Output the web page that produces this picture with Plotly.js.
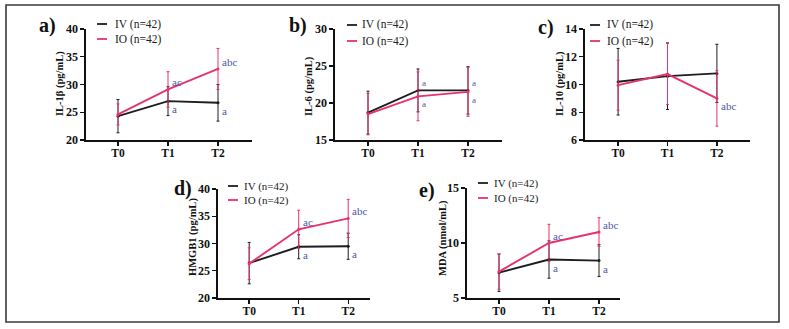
<!DOCTYPE html>
<html>
<head>
<meta charset="utf-8">
<script src="https://cdn.plot.ly/plotly-3.0.1.min.js"></script>
<style>
  html, body { margin: 0; padding: 0; background: #ffffff; }
  #chart { width: 789px; height: 329px; }
</style>
</head>
<body>
<div id="chart"></div>
<script>
// ---- data: mean and SD per time point, two groups of 42 ----
const timePoints = ["T0", "T1", "T2"];
const groupNames = ["IV (n=42)", "IO (n=42)"];

// IL-1β (pg/mL)
const il1bIV   = [24.3, 27.0, 26.7];
const il1bIVsd = [3.0, 2.6, 3.3];
const il1bIO   = [24.6, 29.1, 32.8];
const il1bIOsd = [1.9, 3.2, 3.7];
const il1bSigIV = ["", "a", "a"];
const il1bSigIO = ["", "ac", "abc"];

// IL-6 (pg/mL)
const il6IV   = [18.7, 21.7, 21.7];
const il6IVsd = [2.9, 2.9, 3.2];
const il6IO   = [18.5, 20.9, 21.5];
const il6IOsd = [2.8, 3.3, 3.3];
const il6SigIV = ["", "a", "a"];
const il6SigIO = ["", "a", "a"];

// IL-10 (pg/mL)
const il10IV   = [10.2, 10.6, 10.8];
const il10IVsd = [2.4, 2.4, 2.1];
const il10IO   = [9.95, 10.75, 9.0];
const il10IOsd = [1.8, 2.2, 2.0];
const il10SigIV = ["", "", ""];
const il10SigIO = ["", "", "abc"];

// HMGB1 (pg/mL)
const hmgb1IV   = [26.4, 29.4, 29.5];
const hmgb1IVsd = [3.8, 2.2, 2.4];
const hmgb1IO   = [26.3, 32.6, 34.6];
const hmgb1IOsd = [2.9, 3.5, 3.5];
const hmgb1SigIV = ["", "a", "a"];
const hmgb1SigIO = ["", "ac", "abc"];

// MDA (nmol/mL)
const mdaIV   = [7.3, 8.5, 8.4];
const mdaIVsd = [1.7, 1.7, 1.45];
const mdaIO   = [7.4, 10.0, 11.0];
const mdaIOsd = [1.6, 1.7, 1.3];
const mdaSigIV = ["", "a", "a"];
const mdaSigIO = ["", "ac", "abc"];

// ---- page geometry ----
const W = 789, H = 329;
const fx = p => p / W;
const fy = p => 1 - p / H;

const SERIF = "'Liberation Serif', 'Times New Roman', 'DejaVu Serif', serif";
const COL_IV = "#1e1e1e";
const COL_IO = "#e5336d";
const COL_SIG = "#4c58a8";

// panel frames (pixels) and axis settings
const panels = [
  { tag: "a)", title: "IL-1β (pg/mL)", iv: il1bIV, ivsd: il1bIVsd, io: il1bIO, iosd: il1bIOsd,
    sigIV: il1bSigIV, sigIO: il1bSigIO,
    x0: 86, x1: 252, y0: 29, y1: 140, xr: [-0.64, 2.68], yr: [20, 40], dt: 5,
    tagX: 37, tagY: 26, titleX: 60, titleY: 84, legLine: 97, legText: 113, legY: [24, 39], legSize: 11.5, sigSize: 11 },
  { tag: "b)", title: "IL-6 (pg/mL)", iv: il6IV, ivsd: il6IVsd, io: il6IO, iosd: il6IOsd,
    sigIV: il6SigIV, sigIO: il6SigIO,
    x0: 335, x1: 502, y0: 29, y1: 140, xr: [-0.66, 2.68], yr: [15, 30], dt: 5,
    tagX: 287, tagY: 26, titleX: 309, titleY: 86, legLine: 347, legText: 360, legY: [25, 41], legSize: 11.5, sigSize: 9 },
  { tag: "c)", title: "IL-10 (pg/mL)", iv: il10IV, ivsd: il10IVsd, io: il10IO, iosd: il10IOsd,
    sigIV: il10SigIV, sigIO: il10SigIO,
    x0: 585, x1: 750, y0: 29, y1: 140, xr: [-0.67, 2.67], yr: [6, 14], dt: 2,
    tagX: 536, tagY: 27, titleX: 560, titleY: 84, legLine: 590, legText: 605, legY: [25, 41], legSize: 11.5, sigSize: 11 },
  { tag: "d)", title: "HMGB1 (pg/mL)", iv: hmgb1IV, ivsd: hmgb1IVsd, io: hmgb1IO, iosd: hmgb1IOsd,
    sigIV: hmgb1SigIV, sigIO: hmgb1SigIO,
    x0: 218, x1: 370, y0: 189, y1: 298, xr: [-0.63, 2.44], yr: [20, 40], dt: 5,
    tagX: 172, tagY: 188, titleX: 193, titleY: 237, legLine: 228, legText: 242, legY: [186, 200], legSize: 11, sigSize: 11 },
  { tag: "e)", title: "MDA (nmol/mL)", iv: mdaIV, ivsd: mdaIVsd, io: mdaIO, iosd: mdaIOsd,
    sigIV: mdaSigIV, sigIO: mdaSigIO,
    x0: 467, x1: 620, y0: 188, y1: 298, xr: [-0.64, 2.42], yr: [5, 15], dt: 5,
    tagX: 417, tagY: 190, titleX: 443, titleY: 238, legLine: 478, legText: 492, legY: [183, 198], legSize: 11, sigSize: 11 }
];

const traces = [];
const annotations = [];
const shapes = [];
const layout = {
  width: W, height: H,
  margin: { l: 0, r: 0, t: 0, b: 0, pad: 0 },
  paper_bgcolor: "#ffffff",
  plot_bgcolor: "rgba(0,0,0,0)",
  showlegend: false,
  font: { family: SERIF, color: "#111111" }
};

panels.forEach((p, i) => {
  const n = i === 0 ? "" : String(i + 1);
  const xa = "x" + n, ya = "y" + n;

  const series = [
    { name: groupNames[0], y: p.iv, sd: p.ivsd, color: COL_IV },
    { name: groupNames[1], y: p.io, sd: p.iosd, color: COL_IO }
  ];
  series.forEach(s => {
    traces.push({
      type: "scatter", mode: "lines+markers", name: s.name,
      x: timePoints, y: s.y, xaxis: xa, yaxis: ya,
      line: { color: s.color, width: 1.9 },
      marker: { color: s.color, size: 3 },
      error_y: { type: "data", array: s.sd, visible: true, color: s.color, thickness: 1, width: 1.5 },
      hoverinfo: "skip", cliponaxis: false
    });
  });

  const common = {
    showline: true, linecolor: "#111111", linewidth: 1.6, mirror: false,
    showgrid: false, zeroline: false,
    ticks: "outside", ticklen: 4, tickwidth: 1.4, tickcolor: "#111111",
    tickfont: { family: SERIF, size: 12, weight: "bold", color: "#111111" },
    fixedrange: true
  };
  layout["xaxis" + n] = Object.assign({}, common, {
    type: "category", domain: [fx(p.x0), fx(p.x1)], range: p.xr, anchor: ya,
    ticklabelstandoff: -2,
    tickfont: { family: SERIF, size: 11.5, weight: "bold", color: "#111111" }
  });
  layout["yaxis" + n] = Object.assign({}, common, {
    domain: [fy(p.y1), fy(p.y0)], range: p.yr, anchor: xa, dtick: p.dt, tick0: p.yr[0]
  });

  // significance letters beside the error bars
  for (let j = 0; j < timePoints.length; j++) {
    const ivUp = p.iv[j] >= p.io[j];
    [[p.sigIV[j], p.iv[j], ivUp], [p.sigIO[j], p.io[j], !ivUp]].forEach(([txt, val, up]) => {
      if (!txt) return;
      annotations.push({
        xref: xa, yref: ya, x: timePoints[j], y: val, text: txt,
        showarrow: false, xanchor: "left", yanchor: "middle",
        xshift: 2, yshift: up ? 7 : -8,
        font: { family: SERIF, size: p.sigSize, color: COL_SIG }
      });
    });
  }

  // panel tag
  annotations.push({
    xref: "paper", yref: "paper", x: fx(p.tagX), y: fy(p.tagY), text: p.tag,
    showarrow: false, xanchor: "left", yanchor: "middle",
    font: { family: SERIF, size: 20, weight: "bold", color: "#111111" }
  });
  // y-axis title
  annotations.push({
    xref: "paper", yref: "paper", x: fx(p.titleX), y: fy(p.titleY), text: p.title,
    showarrow: false, textangle: -90, xanchor: "center", yanchor: "middle",
    font: { family: SERIF, size: 10.5, weight: "bold", color: "#111111" }
  });
  // legend
  series.forEach((s, k) => {
    shapes.push({
      type: "line", xref: "paper", yref: "paper",
      x0: fx(p.legLine), x1: fx(p.legLine + 10), y0: fy(p.legY[k]), y1: fy(p.legY[k]),
      line: { color: s.color, width: 1.8 }
    });
    annotations.push({
      xref: "paper", yref: "paper", x: fx(p.legText), y: fy(p.legY[k]), text: s.name,
      showarrow: false, xanchor: "left", yanchor: "middle",
      font: { family: SERIF, size: p.legSize, color: "#222222" }
    });
  });
});

// outer frame
shapes.push({
  type: "rect", xref: "paper", yref: "paper",
  x0: fx(6), x1: fx(779), y0: fy(322), y1: fy(5),
  line: { color: "#3a3a3a", width: 1.6 }
});

layout.annotations = annotations;
layout.shapes = shapes;

Plotly.newPlot("chart", traces, layout, { staticPlot: true, displayModeBar: false });
</script>
</body>
</html>
